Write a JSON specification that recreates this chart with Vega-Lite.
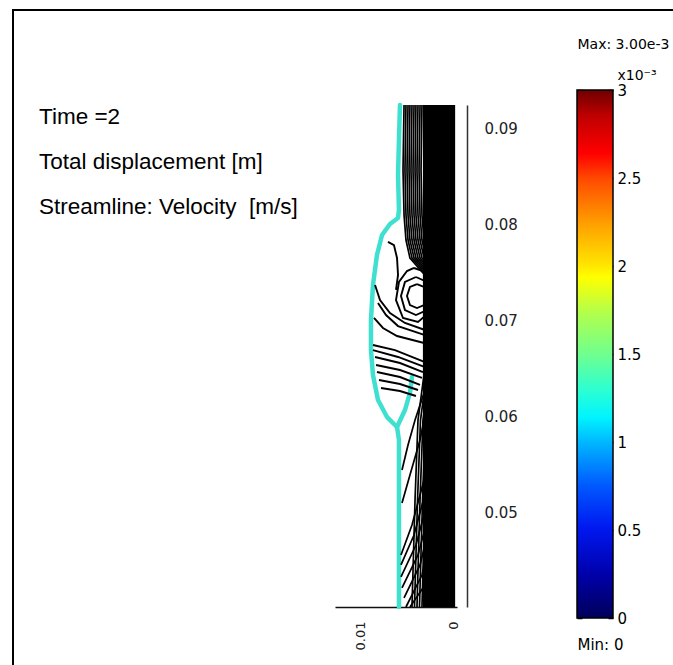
{
  "$schema": "https://vega.github.io/schema/vega-lite/v6.json",
  "width": 660,
  "height": 655,
  "autosize": {"type": "none"},
  "padding": {"left": 13, "top": 10, "right": 0, "bottom": 0},
  "background": "white",
  "config": {
    "view": {"stroke": "black", "strokeWidth": 2, "strokeDash": [660, 1315, 655]},
    "axis": {"grid": false}
  },
  "title": {
    "text": ["Time =2", "Total displacement [m]", "Streamline: Velocity\u00a0 [m/s]"],
    "anchor": "start",
    "frame": "group",
    "orient": "top",
    "offset": -226,
    "dx": 26,
    "baseline": "alphabetic",
    "font": "Liberation Sans",
    "fontSize": 22.5,
    "fontWeight": "normal",
    "color": "black",
    "lineHeight": 45
  },
  "datasets": {
    "boundary": [
      {"part": "L", "i": 0, "x": 0.00577, "y": 0.0925},
      {"part": "L", "i": 1, "x": 0.00588, "y": 0.08885},
      {"part": "L", "i": 2, "x": 0.00598, "y": 0.08521},
      {"part": "L", "i": 3, "x": 0.00588, "y": 0.08156},
      {"part": "L", "i": 4, "x": 0.00598, "y": 0.08073},
      {"part": "L", "i": 5, "x": 0.00685, "y": 0.0801},
      {"part": "L", "i": 6, "x": 0.00771, "y": 0.07896},
      {"part": "L", "i": 7, "x": 0.00826, "y": 0.07687},
      {"part": "L", "i": 8, "x": 0.00869, "y": 0.07375},
      {"part": "L", "i": 9, "x": 0.00891, "y": 0.0701},
      {"part": "L", "i": 10, "x": 0.00891, "y": 0.06697},
      {"part": "L", "i": 11, "x": 0.00869, "y": 0.06437},
      {"part": "L", "i": 12, "x": 0.00815, "y": 0.06177},
      {"part": "L", "i": 13, "x": 0.00717, "y": 0.05999},
      {"part": "L", "i": 14, "x": 0.00609, "y": 0.05895},
      {"part": "L", "i": 15, "x": 0.00588, "y": 0.0576},
      {"part": "L", "i": 16, "x": 0.00588, "y": 0.05135},
      {"part": "L", "i": 17, "x": 0.00588, "y": 0.0402},
      {"part": "R", "i": 0, "x": 0.00609, "y": 0.05895},
      {"part": "R", "i": 1, "x": 0.00523, "y": 0.06072},
      {"part": "R", "i": 2, "x": 0.00469, "y": 0.0625},
      {"part": "R", "i": 3, "x": 0.00447, "y": 0.06416}
    ],
    "core": [
      {"s": "A0", "i": 0, "x": 0.00317, "y": 0.0925}, {"s": "A0", "i": 1, "x": 0.00317, "y": 0.0402},
      {"s": "A1", "i": 0, "x": 0.00295, "y": 0.0925}, {"s": "A1", "i": 1, "x": 0.00295, "y": 0.0402},
      {"s": "A2", "i": 0, "x": 0.00274, "y": 0.0925}, {"s": "A2", "i": 1, "x": 0.00274, "y": 0.0402},
      {"s": "A3", "i": 0, "x": 0.00252, "y": 0.0925}, {"s": "A3", "i": 1, "x": 0.00252, "y": 0.0402},
      {"s": "A4", "i": 0, "x": 0.0023, "y": 0.0925}, {"s": "A4", "i": 1, "x": 0.0023, "y": 0.0402},
      {"s": "A5", "i": 0, "x": 0.00209, "y": 0.0925}, {"s": "A5", "i": 1, "x": 0.00209, "y": 0.0402},
      {"s": "A6", "i": 0, "x": 0.00187, "y": 0.0925}, {"s": "A6", "i": 1, "x": 0.00187, "y": 0.0402},
      {"s": "A7", "i": 0, "x": 0.00166, "y": 0.0925}, {"s": "A7", "i": 1, "x": 0.00166, "y": 0.0402},
      {"s": "A8", "i": 0, "x": 0.00144, "y": 0.0925}, {"s": "A8", "i": 1, "x": 0.00144, "y": 0.0402},
      {"s": "A9", "i": 0, "x": 0.00122, "y": 0.0925}, {"s": "A9", "i": 1, "x": 0.00122, "y": 0.0402},
      {"s": "A10", "i": 0, "x": 0.00101, "y": 0.0925}, {"s": "A10", "i": 1, "x": 0.00101, "y": 0.0402},
      {"s": "A11", "i": 0, "x": 0.00079, "y": 0.0925}, {"s": "A11", "i": 1, "x": 0.00079, "y": 0.0402},
      {"s": "A12", "i": 0, "x": 0.00057, "y": 0.0925}, {"s": "A12", "i": 1, "x": 0.00057, "y": 0.0402},
      {"s": "A13", "i": 0, "x": 0.00036, "y": 0.0925}, {"s": "A13", "i": 1, "x": 0.00036, "y": 0.0402},
      {"s": "A14", "i": 0, "x": 0.00014, "y": 0.0925}, {"s": "A14", "i": 1, "x": 0.00014, "y": 0.0402},
      {"s": "A15", "i": 0, "x": -0.00008, "y": 0.0925}, {"s": "A15", "i": 1, "x": -0.00008, "y": 0.0402}
    ],
    "streamlines": [
      {"s": "B0", "i": 0, "x": 0.00533, "y": 0.0925}, {"s": "B0", "i": 1, "x": 0.00544, "y": 0.08573}, {"s": "B0", "i": 2, "x": 0.00533, "y": 0.08104}, {"s": "B0", "i": 3, "x": 0.00512, "y": 0.07843}, {"s": "B0", "i": 4, "x": 0.00469, "y": 0.07656}, {"s": "B0", "i": 5, "x": 0.00166, "y": 0.07323}, {"s": "B0", "i": 6, "x": 0.00274, "y": 0.0675}, {"s": "B0", "i": 7, "x": 0.00382, "y": 0.05968}, {"s": "B0", "i": 8, "x": 0.00414, "y": 0.05135}, {"s": "B0", "i": 9, "x": 0.00447, "y": 0.0402},
      {"s": "B1", "i": 0, "x": 0.00512, "y": 0.0925}, {"s": "B1", "i": 1, "x": 0.00523, "y": 0.08573}, {"s": "B1", "i": 2, "x": 0.00512, "y": 0.08104}, {"s": "B1", "i": 3, "x": 0.0049, "y": 0.07843}, {"s": "B1", "i": 4, "x": 0.00447, "y": 0.07656}, {"s": "B1", "i": 5, "x": 0.00149, "y": 0.07323}, {"s": "B1", "i": 6, "x": 0.00247, "y": 0.0675}, {"s": "B1", "i": 7, "x": 0.00355, "y": 0.05968}, {"s": "B1", "i": 8, "x": 0.00387, "y": 0.05135}, {"s": "B1", "i": 9, "x": 0.0042, "y": 0.0402},
      {"s": "B2", "i": 0, "x": 0.0049, "y": 0.0925}, {"s": "B2", "i": 1, "x": 0.00501, "y": 0.08573}, {"s": "B2", "i": 2, "x": 0.0049, "y": 0.08104}, {"s": "B2", "i": 3, "x": 0.00469, "y": 0.07843}, {"s": "B2", "i": 4, "x": 0.00425, "y": 0.07656}, {"s": "B2", "i": 5, "x": 0.00133, "y": 0.07323}, {"s": "B2", "i": 6, "x": 0.00219, "y": 0.0675}, {"s": "B2", "i": 7, "x": 0.00328, "y": 0.05968}, {"s": "B2", "i": 8, "x": 0.0036, "y": 0.05135}, {"s": "B2", "i": 9, "x": 0.00393, "y": 0.0402},
      {"s": "B3", "i": 0, "x": 0.00469, "y": 0.0925}, {"s": "B3", "i": 1, "x": 0.00479, "y": 0.08573}, {"s": "B3", "i": 2, "x": 0.00469, "y": 0.08104}, {"s": "B3", "i": 3, "x": 0.00447, "y": 0.07843}, {"s": "B3", "i": 4, "x": 0.00404, "y": 0.07656}, {"s": "B3", "i": 5, "x": 0.00117, "y": 0.07323}, {"s": "B3", "i": 6, "x": 0.00193, "y": 0.0675}, {"s": "B3", "i": 7, "x": 0.00301, "y": 0.05968}, {"s": "B3", "i": 8, "x": 0.00333, "y": 0.05135}, {"s": "B3", "i": 9, "x": 0.00366, "y": 0.0402},
      {"s": "B4", "i": 0, "x": 0.00447, "y": 0.0925}, {"s": "B4", "i": 1, "x": 0.00458, "y": 0.08573}, {"s": "B4", "i": 2, "x": 0.00447, "y": 0.08104}, {"s": "B4", "i": 3, "x": 0.00425, "y": 0.07843}, {"s": "B4", "i": 4, "x": 0.00382, "y": 0.07656}, {"s": "B4", "i": 5, "x": 0.00101, "y": 0.07323}, {"s": "B4", "i": 6, "x": 0.00166, "y": 0.0675}, {"s": "B4", "i": 7, "x": 0.00274, "y": 0.05968}, {"s": "B4", "i": 8, "x": 0.00306, "y": 0.05135}, {"s": "B4", "i": 9, "x": 0.00339, "y": 0.0402},
      {"s": "B5", "i": 0, "x": 0.00425, "y": 0.0925}, {"s": "B5", "i": 1, "x": 0.00436, "y": 0.08573}, {"s": "B5", "i": 2, "x": 0.00425, "y": 0.08104}, {"s": "B5", "i": 3, "x": 0.00404, "y": 0.07843}, {"s": "B5", "i": 4, "x": 0.0036, "y": 0.07656}, {"s": "B5", "i": 5, "x": 0.00084, "y": 0.07323}, {"s": "B5", "i": 6, "x": 0.00138, "y": 0.0675}, {"s": "B5", "i": 7, "x": 0.00247, "y": 0.05968}, {"s": "B5", "i": 8, "x": 0.00279, "y": 0.05135}, {"s": "B5", "i": 9, "x": 0.00312, "y": 0.0402},
      {"s": "B6", "i": 0, "x": 0.00404, "y": 0.0925}, {"s": "B6", "i": 1, "x": 0.00414, "y": 0.08573}, {"s": "B6", "i": 2, "x": 0.00404, "y": 0.08104}, {"s": "B6", "i": 3, "x": 0.00382, "y": 0.07843}, {"s": "B6", "i": 4, "x": 0.00339, "y": 0.07656}, {"s": "B6", "i": 5, "x": 0.00068, "y": 0.07323}, {"s": "B6", "i": 6, "x": 0.00111, "y": 0.0675}, {"s": "B6", "i": 7, "x": 0.00219, "y": 0.05968}, {"s": "B6", "i": 8, "x": 0.00252, "y": 0.05135}, {"s": "B6", "i": 9, "x": 0.00285, "y": 0.0402},
      {"s": "B7", "i": 0, "x": 0.00382, "y": 0.0925}, {"s": "B7", "i": 1, "x": 0.00393, "y": 0.08573}, {"s": "B7", "i": 2, "x": 0.00382, "y": 0.08104}, {"s": "B7", "i": 3, "x": 0.0036, "y": 0.07843}, {"s": "B7", "i": 4, "x": 0.00317, "y": 0.07656}, {"s": "B7", "i": 5, "x": 0.00052, "y": 0.07323}, {"s": "B7", "i": 6, "x": 0.00084, "y": 0.0675}, {"s": "B7", "i": 7, "x": 0.00193, "y": 0.05968}, {"s": "B7", "i": 8, "x": 0.00225, "y": 0.05135}, {"s": "B7", "i": 9, "x": 0.00258, "y": 0.0402},
      {"s": "B8", "i": 0, "x": 0.0036, "y": 0.0925}, {"s": "B8", "i": 1, "x": 0.00371, "y": 0.08573}, {"s": "B8", "i": 2, "x": 0.0036, "y": 0.08104}, {"s": "B8", "i": 3, "x": 0.00339, "y": 0.07843}, {"s": "B8", "i": 4, "x": 0.00295, "y": 0.07656}, {"s": "B8", "i": 5, "x": 0.00036, "y": 0.07323}, {"s": "B8", "i": 6, "x": 0.00057, "y": 0.0675}, {"s": "B8", "i": 7, "x": 0.00166, "y": 0.05968}, {"s": "B8", "i": 8, "x": 0.00198, "y": 0.05135}, {"s": "B8", "i": 9, "x": 0.0023, "y": 0.0402},
      {"s": "B9", "i": 0, "x": 0.00339, "y": 0.0925}, {"s": "B9", "i": 1, "x": 0.00349, "y": 0.08573}, {"s": "B9", "i": 2, "x": 0.00339, "y": 0.08104}, {"s": "B9", "i": 3, "x": 0.00317, "y": 0.07843}, {"s": "B9", "i": 4, "x": 0.00274, "y": 0.07656}, {"s": "B9", "i": 5, "x": 0.00019, "y": 0.07323}, {"s": "B9", "i": 6, "x": 0.0003, "y": 0.0675}, {"s": "B9", "i": 7, "x": 0.00138, "y": 0.05968}, {"s": "B9", "i": 8, "x": 0.00171, "y": 0.05135}, {"s": "B9", "i": 9, "x": 0.00203, "y": 0.0402},
      {"s": "D1", "i": 0, "x": 0.00306, "y": 0.06281}, {"s": "D1", "i": 1, "x": 0.00414, "y": 0.05968}, {"s": "D1", "i": 2, "x": 0.0049, "y": 0.05708}, {"s": "D1", "i": 3, "x": 0.00555, "y": 0.05447},
      {"s": "D2", "i": 0, "x": 0.00274, "y": 0.06177}, {"s": "D2", "i": 1, "x": 0.0036, "y": 0.0576}, {"s": "D2", "i": 2, "x": 0.00469, "y": 0.05395}, {"s": "D2", "i": 3, "x": 0.00555, "y": 0.05103},
      {"s": "D3", "i": 0, "x": 0.0023, "y": 0.05864}, {"s": "D3", "i": 1, "x": 0.00317, "y": 0.05343}, {"s": "D3", "i": 2, "x": 0.00447, "y": 0.04874}, {"s": "D3", "i": 3, "x": 0.00566, "y": 0.04562},
      {"s": "D4", "i": 0, "x": 0.00219, "y": 0.0576}, {"s": "D4", "i": 1, "x": 0.00295, "y": 0.05239}, {"s": "D4", "i": 2, "x": 0.00425, "y": 0.0477}, {"s": "D4", "i": 3, "x": 0.00566, "y": 0.04458},
      {"s": "D5", "i": 0, "x": 0.00198, "y": 0.05656}, {"s": "D5", "i": 1, "x": 0.00274, "y": 0.05135}, {"s": "D5", "i": 2, "x": 0.00404, "y": 0.04666}, {"s": "D5", "i": 3, "x": 0.00566, "y": 0.04333},
      {"s": "D6", "i": 0, "x": 0.00187, "y": 0.05551}, {"s": "D6", "i": 1, "x": 0.00252, "y": 0.05031}, {"s": "D6", "i": 2, "x": 0.00382, "y": 0.04562}, {"s": "D6", "i": 3, "x": 0.00555, "y": 0.04218},
      {"s": "D7", "i": 0, "x": 0.00176, "y": 0.05447}, {"s": "D7", "i": 1, "x": 0.00241, "y": 0.04926}, {"s": "D7", "i": 2, "x": 0.0036, "y": 0.04458}, {"s": "D7", "i": 3, "x": 0.00533, "y": 0.04114},
      {"s": "D8", "i": 0, "x": 0.00166, "y": 0.05343}, {"s": "D8", "i": 1, "x": 0.0023, "y": 0.04822}, {"s": "D8", "i": 2, "x": 0.00339, "y": 0.04353}, {"s": "D8", "i": 3, "x": 0.00512, "y": 0.0402},
      {"s": "D9", "i": 0, "x": 0.00144, "y": 0.05239}, {"s": "D9", "i": 1, "x": 0.00209, "y": 0.04718}, {"s": "D9", "i": 2, "x": 0.00306, "y": 0.04249}, {"s": "D9", "i": 3, "x": 0.00469, "y": 0.0402}
    ],
    "vortex": [
      {"s": "V1", "i": 0, "x": 0.00393, "y": 0.07385}, {"s": "V1", "i": 1, "x": 0.00317, "y": 0.07354}, {"s": "V1", "i": 2, "x": 0.00285, "y": 0.0726}, {"s": "V1", "i": 3, "x": 0.00317, "y": 0.07166}, {"s": "V1", "i": 4, "x": 0.00393, "y": 0.07135}, {"s": "V1", "i": 5, "x": 0.00469, "y": 0.07166}, {"s": "V1", "i": 6, "x": 0.00501, "y": 0.0726}, {"s": "V1", "i": 7, "x": 0.00469, "y": 0.07354}, {"s": "V1", "i": 8, "x": 0.00393, "y": 0.07385},
      {"s": "V2", "i": 0, "x": 0.00404, "y": 0.07458}, {"s": "V2", "i": 1, "x": 0.00285, "y": 0.07406}, {"s": "V2", "i": 2, "x": 0.0023, "y": 0.0726}, {"s": "V2", "i": 3, "x": 0.00285, "y": 0.07114}, {"s": "V2", "i": 4, "x": 0.00404, "y": 0.07062}, {"s": "V2", "i": 5, "x": 0.00523, "y": 0.07114}, {"s": "V2", "i": 6, "x": 0.00566, "y": 0.0726}, {"s": "V2", "i": 7, "x": 0.00523, "y": 0.07406}, {"s": "V2", "i": 8, "x": 0.00404, "y": 0.07458},
      {"s": "V3", "i": 0, "x": 0.00425, "y": 0.07552}, {"s": "V3", "i": 1, "x": 0.00274, "y": 0.075}, {"s": "V3", "i": 2, "x": 0.00187, "y": 0.07323}, {"s": "V3", "i": 3, "x": 0.0023, "y": 0.07114}, {"s": "V3", "i": 4, "x": 0.00382, "y": 0.06989}, {"s": "V3", "i": 5, "x": 0.00544, "y": 0.07031}, {"s": "V3", "i": 6, "x": 0.0062, "y": 0.07218}, {"s": "V3", "i": 7, "x": 0.00588, "y": 0.07406}, {"s": "V3", "i": 8, "x": 0.00501, "y": 0.0752}, {"s": "V3", "i": 9, "x": 0.00425, "y": 0.07552},
      {"s": "H", "i": 0, "x": 0.00707, "y": 0.07823}, {"s": "H", "i": 1, "x": 0.00642, "y": 0.07791}, {"s": "H", "i": 2, "x": 0.00609, "y": 0.07656}, {"s": "H", "i": 3, "x": 0.00598, "y": 0.07479}, {"s": "H", "i": 4, "x": 0.0062, "y": 0.07323},
      {"s": "E1", "i": 0, "x": 0.00847, "y": 0.07375}, {"s": "E1", "i": 1, "x": 0.00793, "y": 0.07218}, {"s": "E1", "i": 2, "x": 0.00685, "y": 0.07083}, {"s": "E1", "i": 3, "x": 0.00523, "y": 0.06979}, {"s": "E1", "i": 4, "x": 0.00306, "y": 0.06906},
      {"s": "E2", "i": 0, "x": 0.00815, "y": 0.07187}, {"s": "E2", "i": 1, "x": 0.00728, "y": 0.07062}, {"s": "E2", "i": 2, "x": 0.00598, "y": 0.06947}, {"s": "E2", "i": 3, "x": 0.00274, "y": 0.06843},
      {"s": "E3", "i": 0, "x": 0.00858, "y": 0.07031}, {"s": "E3", "i": 1, "x": 0.00761, "y": 0.06927}, {"s": "E3", "i": 2, "x": 0.00609, "y": 0.06843}, {"s": "E3", "i": 3, "x": 0.00274, "y": 0.0676},
      {"s": "F1", "i": 0, "x": 0.00869, "y": 0.0675}, {"s": "F1", "i": 1, "x": 0.00631, "y": 0.06697}, {"s": "F1", "i": 2, "x": 0.00306, "y": 0.06572},
      {"s": "F2", "i": 0, "x": 0.00869, "y": 0.06697}, {"s": "F2", "i": 1, "x": 0.00598, "y": 0.06625}, {"s": "F2", "i": 2, "x": 0.00306, "y": 0.0652},
      {"s": "F3", "i": 0, "x": 0.00847, "y": 0.06625}, {"s": "F3", "i": 1, "x": 0.00577, "y": 0.06562}, {"s": "F3", "i": 2, "x": 0.00328, "y": 0.06468},
      {"s": "F4", "i": 0, "x": 0.00836, "y": 0.06541}, {"s": "F4", "i": 1, "x": 0.00577, "y": 0.06489}, {"s": "F4", "i": 2, "x": 0.00339, "y": 0.06406},
      {"s": "F5", "i": 0, "x": 0.00826, "y": 0.06468}, {"s": "F5", "i": 1, "x": 0.00577, "y": 0.06416}, {"s": "F5", "i": 2, "x": 0.0036, "y": 0.06333},
      {"s": "F6", "i": 0, "x": 0.00804, "y": 0.06385}, {"s": "F6", "i": 1, "x": 0.00577, "y": 0.06343}, {"s": "F6", "i": 2, "x": 0.00382, "y": 0.06281},
      {"s": "F7", "i": 0, "x": 0.00782, "y": 0.06302}, {"s": "F7", "i": 1, "x": 0.00577, "y": 0.0627}, {"s": "F7", "i": 2, "x": 0.00404, "y": 0.06218}
    ],
    "bar": [{"lo": 0, "hi": 0.003}]
  },
  "layer": [
    {
      "encoding": {
        "x": {
          "field": "x", "type": "quantitative",
          "scale": {"domain": [0.0128, -0.0004], "range": [322, 444], "nice": false, "zero": false},
          "axis": {
            "orient": "bottom", "offset": -58, "values": [0, 0.01], "format": "~g",
            "labelAngle": 270, "labelFlush": false, "labelOverlap": false, "ticks": false,
            "labelPadding": 14, "labelFont": "DejaVu Sans", "labelFontSize": 13, "labelColor": "#222",
            "domainColor": "#111", "domainWidth": 1.5, "grid": false, "title": null
          }
        },
        "y": {
          "field": "y", "type": "quantitative",
          "scale": {"domain": [0.0402, 0.0925], "range": [597, 95], "nice": false, "zero": false},
          "axis": {
            "orient": "right", "offset": -206, "values": [0.05, 0.06, 0.07, 0.08, 0.09], "format": ".2f",
            "ticks": false, "labelPadding": 17, "labelFont": "DejaVu Sans", "labelFontSize": 15, "labelColor": "#222",
            "domainColor": "#333", "domainWidth": 1.5, "grid": false, "title": null
          }
        }
      },
      "layer": [
        {
          "data": {"name": "boundary"},
          "mark": {"type": "line", "color": "#40e0d0", "strokeWidth": 4.5, "strokeJoin": "round", "strokeCap": "round"},
          "encoding": {"detail": {"field": "part"}, "order": {"field": "i"}}
        },
        {
          "data": {"name": "core"},
          "mark": {"type": "line", "color": "black", "strokeWidth": 2.2},
          "encoding": {"detail": {"field": "s"}, "order": {"field": "i"}}
        },
        {
          "data": {"name": "streamlines"},
          "mark": {"type": "line", "color": "black", "strokeWidth": 1.7},
          "encoding": {"detail": {"field": "s"}, "order": {"field": "i"}}
        },
        {
          "data": {"name": "vortex"},
          "mark": {"type": "line", "color": "black", "strokeWidth": 1.9},
          "encoding": {"detail": {"field": "s"}, "order": {"field": "i"}}
        }
      ]
    },
    {
      "data": {"name": "bar"},
      "mark": {
        "type": "rect",
        "fill": {
          "gradient": "linear", "x1": 0, "y1": 1, "x2": 0, "y2": 0,
          "stops": [
            {"offset": 0, "color": "#00005a"},
            {"offset": 0.08, "color": "#0000a8"},
            {"offset": 0.17, "color": "#0018f0"},
            {"offset": 0.25, "color": "#0058ff"},
            {"offset": 0.33, "color": "#00b4ff"},
            {"offset": 0.38, "color": "#00f4ff"},
            {"offset": 0.43, "color": "#2affd4"},
            {"offset": 0.5, "color": "#70ff8e"},
            {"offset": 0.58, "color": "#b4ff4a"},
            {"offset": 0.645, "color": "#ffff00"},
            {"offset": 0.67, "color": "#ffe400"},
            {"offset": 0.75, "color": "#ff9c00"},
            {"offset": 0.83, "color": "#ff4c00"},
            {"offset": 0.88, "color": "#ff0000"},
            {"offset": 0.95, "color": "#c00000"},
            {"offset": 1, "color": "#6e0000"}
          ]
        }
      },
      "encoding": {
        "y": {
          "field": "lo", "type": "quantitative",
          "scale": {"domain": [0, 0.003], "range": [608, 80], "nice": false, "zero": false},
          "axis": {
            "orient": "right", "offset": -60,
            "values": [0, 0.0005, 0.001, 0.0015, 0.002, 0.0025, 0.003],
            "labelExpr": "format(datum.value * 1000, '~g')",
            "tickSize": -5, "tickColor": "black", "tickWidth": 1.5, "domain": false, "grid": false,
            "labelPadding": 9, "labelFont": "DejaVu Sans", "labelFontSize": 15, "labelColor": "black",
            "title": "x10\u207b\u00b3", "titleAngle": 0, "titleX": 4, "titleY": 69, "titleAlign": "left",
            "titleBaseline": "alphabetic", "titleFont": "DejaVu Sans", "titleFontSize": 14,
            "titleFontWeight": "normal", "titleColor": "black"
          }
        },
        "y2": {"field": "hi"},
        "x": {
          "datum": 0, "type": "quantitative",
          "scale": {"domain": [0, 1], "range": [564, 600], "nice": false, "zero": false},
          "axis": {
            "orient": "bottom", "offset": -47, "domain": false, "ticks": false, "labels": false, "grid": false,
            "title": "Min: 0", "titleX": 564, "titleY": 26, "titleAlign": "left", "titleBaseline": "middle",
            "titleAngle": 0, "titleFont": "DejaVu Sans", "titleFontSize": 15, "titleFontWeight": "normal", "titleColor": "black"
          }
        },
        "x2": {"datum": 1}
      }
    },
    {
      "data": {"name": "bar"},
      "mark": {"type": "rect", "filled": false, "stroke": "black", "strokeWidth": 1.5},
      "encoding": {
        "y": {
          "field": "lo", "type": "quantitative",
          "scale": {"domain": [0, 0.003], "range": [608, 80], "nice": false, "zero": false},
          "axis": {
            "orient": "left", "offset": -564,
            "values": [0, 0.0005, 0.001, 0.0015, 0.002, 0.0025, 0.003],
            "tickSize": -5, "tickColor": "black", "tickWidth": 1.5, "labels": false, "domain": false, "grid": false, "title": null
          }
        },
        "y2": {"field": "hi"},
        "x": {
          "datum": 0, "type": "quantitative",
          "scale": {"domain": [0, 1], "range": [564, 600], "nice": false, "zero": false},
          "axis": {
            "orient": "top", "offset": 0, "domain": false, "ticks": false, "labels": false, "grid": false,
            "title": "Max: 3.00e-3", "titleX": 564, "titleY": 34, "titleAlign": "left", "titleBaseline": "middle",
            "titleAngle": 0, "titleFont": "DejaVu Sans", "titleFontSize": 14, "titleFontWeight": "normal", "titleColor": "black"
          }
        },
        "x2": {"datum": 1}
      }
    }
  ],
  "resolve": {"scale": {"x": "independent", "y": "independent"}}
}
